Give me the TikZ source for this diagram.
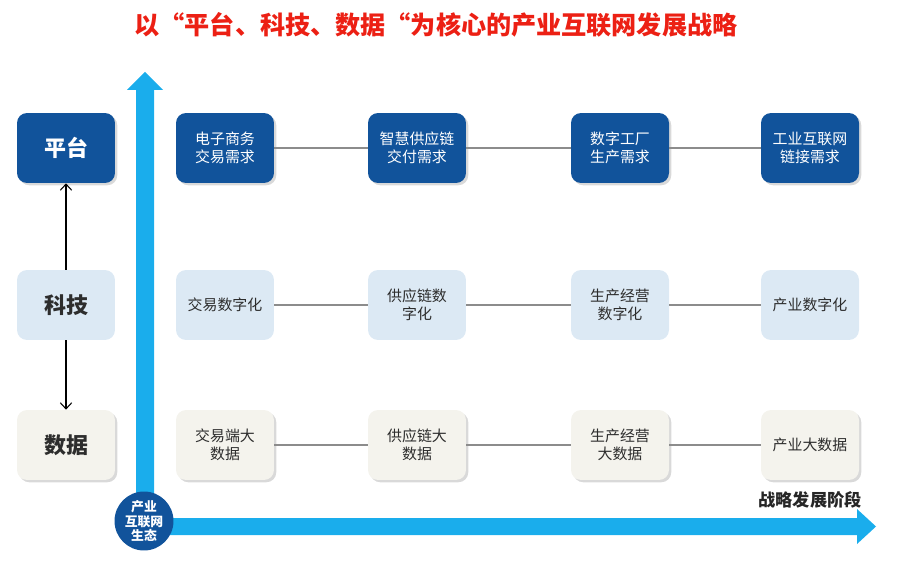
\documentclass[tikz,border=0pt]{standalone}
\usepackage{fontspec}
\setmainfont{Noto Sans CJK SC}
\usetikzlibrary{shadows, arrows.meta}

\definecolor{darkblue}{RGB}{17,83,155}
\definecolor{lightblue}{RGB}{220,233,244}
\definecolor{offwhite}{RGB}{244,243,237}
\definecolor{axisblue}{RGB}{26,173,236}
\definecolor{titlered}{RGB}{236,32,20}
\definecolor{textgray}{RGB}{45,45,45}

\begin{document}
\begin{tikzpicture}
    [
        x=0.02cm, y=-0.02cm,
        cell/.style = {shape=rectangle, rounded corners=0.2cm, minimum width=1.96cm, minimum height=1.4cm, align=center, font=\fontsize{8.5}{10.4}\selectfont},
        side/.style = {shape=rectangle, rounded corners=0.2cm, minimum width=1.96cm, minimum height=1.4cm, font=\bfseries\fontsize{12.5}{14}\selectfont},
        platform/.style = {fill=darkblue, text=white, drop shadow={shadow xshift=1.3pt, shadow yshift=-1.3pt, opacity=0.3}},
        tech/.style = {fill=lightblue, text=textgray},
        data/.style = {fill=offwhite, text=textgray, drop shadow={shadow xshift=1.3pt, shadow yshift=-1.3pt, opacity=0.3}},
        link/.style = {draw=black!45, line width=0.8pt},
    ]

    \useasboundingbox (0,0) rectangle (919,580);

    % title
    \node[text=titlered, font=\bfseries\fontsize{14.3}{16}\selectfont] (title) at (436,25) {以“平台、科技、数据“为核心的产业互联网发展战略};

    % left column
    \node[side, platform] (p0) at (66,148) {平台};
    \node[side, tech] (k0) at (66,305) {科技};
    \node[side, data] (s0) at (66,445) {数据};

    \draw [-{Straight Barb[length=3.5pt, width=6.5pt]}, line width=0.6pt] (k0.north) -- (p0.south);
    \draw [-{Straight Barb[length=3.5pt, width=6.5pt]}, line width=0.6pt] (k0.south) -- (s0.north);

    % axes
    \fill[axisblue] (136,520) -- (136,90) -- (127,90) -- (145,72) -- (163,90) -- (154,90) -- (154,520) -- cycle;
    \fill[axisblue] (145,518) -- (857,518) -- (857,509) -- (876,526.5) -- (857,544) -- (857,535) -- (145,535) -- cycle;

    \node[circle, fill=darkblue, minimum size=1.18cm, inner sep=0pt, text=white, align=center, font=\bfseries\fontsize{7.3}{8.3}\selectfont] (eco) at (144,521) {产业\\互联网\\生态};
    \node[font=\bfseries\fontsize{9.8}{11}\selectfont, text=black!85] (stage) at (810,500) {战略发展阶段};

    % row 1
    \node[cell, platform] (p1) at (225,148) {电子商务\\交易需求};
    \node[cell, platform] (p2) at (417,148) {智慧供应链\\交付需求};
    \node[cell, platform] (p3) at (620,148) {数字工厂\\生产需求};
    \node[cell, platform] (p4) at (810,148) {工业互联网\\链接需求};

    % row 2
    \node[cell, tech] (k1) at (225,305) {交易数字化};
    \node[cell, tech] (k2) at (417,305) {供应链数\\字化};
    \node[cell, tech] (k3) at (620,305) {生产经营\\数字化};
    \node[cell, tech] (k4) at (810,305) {产业数字化};

    % row 3
    \node[cell, data] (s1) at (225,445) {交易端大\\数据};
    \node[cell, data] (s2) at (417,445) {供应链大\\数据};
    \node[cell, data] (s3) at (620,445) {生产经营\\大数据};
    \node[cell, data] (s4) at (810,445) {产业大数据};

    \draw [link] (p1.east) -- (p2.west);
    \draw [link] (p2.east) -- (p3.west);
    \draw [link] (p3.east) -- (p4.west);

    \draw [link] (k1.east) -- (k2.west);
    \draw [link] (k2.east) -- (k3.west);
    \draw [link] (k3.east) -- (k4.west);

    \draw [link] (s1.east) -- (s2.west);
    \draw [link] (s2.east) -- (s3.west);
    \draw [link] (s3.east) -- (s4.west);
\end{tikzpicture}
\end{document}
